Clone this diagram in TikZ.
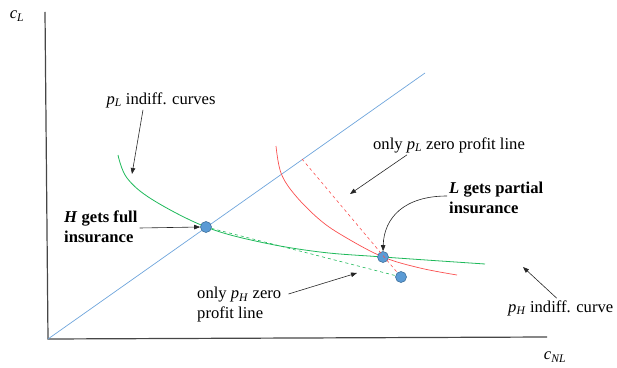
\documentclass[tikz,border=0pt]{standalone}
\usepackage{fontspec}
\setmainfont{Liberation Serif}
\usepackage{tikz}
\usetikzlibrary{arrows.meta,positioning,calc}
\definecolor{cdiag}{RGB}{110,165,220}
\definecolor{cindL}{RGB}{30,185,90}
\definecolor{cindH}{RGB}{250,80,80}
\definecolor{cdotfill}{RGB}{91,155,213}
\definecolor{cdotline}{RGB}{65,113,156}
\definecolor{caxis}{RGB}{70,70,70}
\newcommand{\vsub}[2]{\textit{#1}\textsubscript{\textit{#2}}}
\tikzset{
  bluedot/.style={circle, fill=cdotfill, draw=cdotline, line width=0.6pt, minimum size=11pt, inner sep=0pt},
  lbl/.style={font=\fontsize{16.6}{20}\selectfont, inner sep=2pt},
  boldlbl/.style={lbl, font=\fontsize{16.6}{20}\selectfont\bfseries, align=left},
  pointer/.style={-{Triangle[length=6pt,width=4.5pt]}, line width=0.6pt, black!85}
}

\begin{document}
\begin{tikzpicture}[x=1pt,y=1pt]
    \useasboundingbox (0,0) rectangle (617,367);
    % axes
    \coordinate (ytop) at (45,355);
    \coordinate (orig) at (48,28);
    \coordinate (xend) at (547,30);
    \draw[caxis, line width=1.2pt] (ytop) -- (orig) -- (xend);
    \node[lbl] (cLlab) at (17,351) {\vsub{c}{L}};
    \node[lbl] (cNLlab) at (555,10) {\vsub{c}{NL}};
    % 45 degree line
    \coordinate (diagend) at (425,294);
    \draw[cdiag, line width=0.7pt] (orig) -- (diagend);
    % indifference curves
    \draw[cindL, line width=0.8pt] plot[smooth, tension=0.6] coordinates
         {(118,212) (127,189) (153,167) (206,140) (260,125) (320,115) (383,110) (485,103)};
    \draw[cindH, line width=0.7pt] plot[smooth, tension=0.6] coordinates
         {(276,221) (281,194) (295,172) (320,147) (345,130) (383,110) (420,99) (457,92)};
    % contract points
    \node[bluedot] (Hfull) at (206,140) {};
    \node[bluedot] (Lpart) at (383,110) {};
    \node[bluedot] (Lzero) at (401,90) {};
    % zero profit lines
    \coordinate (Lstart) at (302,208);
    \draw[cindH, dashed, line width=0.6pt] (Lstart) -- (Lzero);
    \draw[cindL, dashed, line width=0.6pt] (Hfull) -- (Lzero);
    % labels
    \node[lbl] (pLcurves) at (161,267) {\vsub{p}{L} indiff. curves};
    \coordinate (pLcurvesTip) at (132,193);
    \draw[pointer] ([xshift=-18pt]pLcurves.south) -- (pLcurvesTip);
    \node[lbl] (pLzero) at (449,222) {only \vsub{p}{L} zero profit line};
    \coordinate (pLzeroTip) at (350,173);
    \draw[pointer] ([xshift=-42pt]pLzero.south) -- (pLzeroTip);
    \node[boldlbl, anchor=west] (Lgets) at (447,169) {\textit{L} gets partial\\insurance};
    \draw[pointer] ([yshift=2pt]Lgets.west) .. controls (405,171) and (384,150) .. (Lpart.north);
    \node[boldlbl, anchor=west] (Hgets) at (62,140) {\textit{H} gets full\\insurance};
    \draw[pointer] ([yshift=-1pt]Hgets.east) -- (Hfull.west);
    \node[lbl, align=left, anchor=west] (pHzero) at (195,62) {only \vsub{p}{H} zero\\profit line};
    \coordinate (pHzeroTip) at (357,94);
    \draw[pointer] ([xshift=5pt,yshift=11pt]pHzero.east) -- (pHzeroTip);
    \node[lbl, anchor=west] (pHcurve) at (506,59) {\vsub{p}{H} indiff. curve};
    \coordinate (pHcurveTip) at (523,100);
    \draw[pointer] ([xshift=-4pt]pHcurve.north) -- (pHcurveTip);
\end{tikzpicture}
\end{document}
